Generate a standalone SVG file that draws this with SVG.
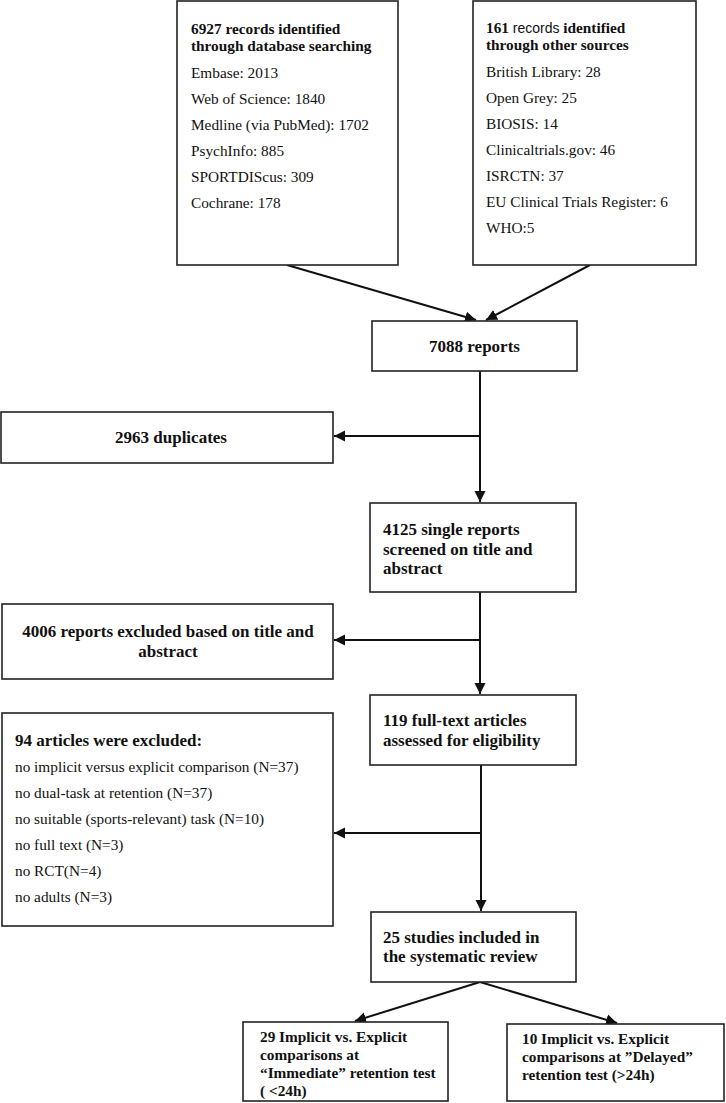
<svg xmlns="http://www.w3.org/2000/svg" width="726" height="1103" viewBox="0 0 726 1103">
<style>
text{font-family:"Liberation Serif","Times New Roman",serif;fill:#111;}
.b{font-weight:bold;font-size:17px;}
.bs{font-weight:bold;font-size:15.3px;}
.r{font-size:15.3px;}
.box{fill:#fff;stroke:#222;stroke-width:1.6;}
.ln{stroke:#111;stroke-width:2;fill:none;}
.c{text-anchor:middle;}
</style>
<defs>
<marker id="ah" markerUnits="userSpaceOnUse" markerWidth="12" markerHeight="12" refX="11" refY="6" orient="auto">
<path d="M0,0.5 L11,6 L0,11.5 Z" fill="#111"/>
</marker>
</defs>
<rect width="726" height="1103" fill="#fff"/>
<g id="connectors">
<line class="ln" x1="287" y1="265" x2="476" y2="320" marker-end="url(#ah)"/>
<line class="ln" x1="590" y1="265" x2="486" y2="320" marker-end="url(#ah)"/>
<line class="ln" x1="480" y1="371" x2="480" y2="502" marker-end="url(#ah)"/>
<line class="ln" x1="480" y1="436" x2="334" y2="436" marker-end="url(#ah)"/>
<line class="ln" x1="480" y1="592" x2="480" y2="694" marker-end="url(#ah)"/>
<line class="ln" x1="480" y1="640" x2="334" y2="640" marker-end="url(#ah)"/>
<line class="ln" x1="481" y1="765" x2="481" y2="911" marker-end="url(#ah)"/>
<line class="ln" x1="481" y1="833" x2="334" y2="833" marker-end="url(#ah)"/>
<line class="ln" x1="480" y1="982" x2="355" y2="1021" marker-end="url(#ah)"/>
<line class="ln" x1="480" y1="982" x2="617" y2="1023" marker-end="url(#ah)"/>
</g>
<g id="db">
<rect class="box" x="177" y="1" width="221" height="264"/>
<text class="bs" x="191" y="34">6927 records identified</text>
<text class="bs" x="191" y="51">through database searching</text>
<text class="r" x="191" y="78">Embase: 2013</text>
<text class="r" x="191" y="104">Web of Science: 1840</text>
<text class="r" x="191" y="130">Medline (via PubMed): 1702</text>
<text class="r" x="191" y="156">PsychInfo: 885</text>
<text class="r" x="191" y="182">SPORTDIScus: 309</text>
<text class="r" x="191" y="208">Cochrane: 178</text>
</g>
<g id="other">
<rect class="box" x="473" y="1" width="223" height="264"/>
<text class="bs" x="486" y="33">161 <tspan style="font-family:'Liberation Sans',Arial,sans-serif;font-weight:normal;font-size:14px">records</tspan> identified</text>
<text class="bs" x="486" y="50">through other sources</text>
<text class="r" x="486" y="77">British Library: 28</text>
<text class="r" x="486" y="103">Open Grey: 25</text>
<text class="r" x="486" y="129">BIOSIS: 14</text>
<text class="r" x="486" y="155">Clinicaltrials.gov: 46</text>
<text class="r" x="486" y="181">ISRCTN: 37</text>
<text class="r" x="486" y="207">EU Clinical Trials Register: 6</text>
<text class="r" x="486" y="233">WHO:5</text>
</g>
<g id="reports">
<rect class="box" x="372" y="321" width="205" height="50"/>
<text class="b c" x="474.5" y="352">7088 reports</text>
</g>
<g id="duplicates">
<rect class="box" x="1" y="412" width="332" height="51"/>
<text class="b c" x="171" y="443">2963 duplicates</text>
</g>
<g id="screened">
<rect class="box" x="370" y="503" width="206" height="89"/>
<text class="b" x="383" y="535">4125 single reports</text>
<text class="b" x="383" y="555">screened on title and</text>
<text class="b" x="383" y="574">abstract</text>
</g>
<g id="excluded1">
<rect class="box" x="2" y="604" width="331" height="75"/>
<text class="b c" x="168" y="637">4006 reports excluded based on title and</text>
<text class="b c" x="168" y="657">abstract</text>
</g>
<g id="fulltext">
<rect class="box" x="370" y="695" width="206" height="70"/>
<text class="b" x="383" y="726">119 full-text articles</text>
<text class="b" x="383" y="746">assessed for eligibility</text>
</g>
<g id="excluded2">
<rect class="box" x="2" y="713" width="331" height="213"/>
<text class="b" x="15" y="746">94 articles were excluded:</text>
<text class="r" x="15" y="772">no implicit versus explicit comparison (N=37)</text>
<text class="r" x="15" y="798">no dual-task at retention (N=37)</text>
<text class="r" x="15" y="824">no suitable (sports-relevant) task (N=10)</text>
<text class="r" x="15" y="850">no full text (N=3)</text>
<text class="r" x="15" y="876">no RCT(N=4)</text>
<text class="r" x="15" y="902">no adults (N=3)</text>
</g>
<g id="included">
<rect class="box" x="371" y="912" width="205" height="70"/>
<text class="b" x="383" y="943">25 studies included in</text>
<text class="b" x="383" y="962">the systematic review</text>
</g>
<g id="immediate">
<rect class="box" x="243" y="1022" width="205" height="79"/>
<text class="bs" x="260" y="1042">29 Implicit vs. Explicit</text>
<text class="bs" x="260" y="1060">comparisons at</text>
<text class="bs" x="260" y="1078">“Immediate” retention test</text>
<text class="bs" x="260" y="1096">( &lt;24h)</text>
</g>
<g id="delayed">
<rect class="box" x="507" y="1024" width="217" height="77"/>
<text class="bs" x="522" y="1044">10 Implicit vs. Explicit</text>
<text class="bs" x="522" y="1062">comparisons at ”Delayed”</text>
<text class="bs" x="522" y="1080">retention test (&gt;24h)</text>
</g>
</svg>
